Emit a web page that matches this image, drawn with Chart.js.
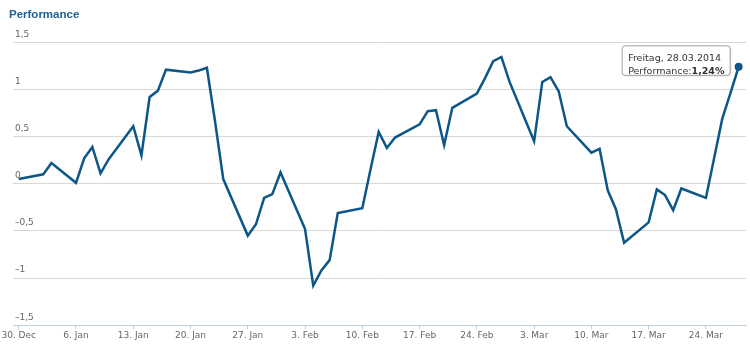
<!DOCTYPE html>
<html>
<head>
<meta charset="utf-8">
<script src="https://cdn.jsdelivr.net/npm/chart.js@4"></script>
<style>
  body { margin: 0; background: #fff; }
  #wrap { width: 750px; height: 350px; }
</style>
</head>
<body>
<div id="wrap"><canvas id="perfChart"></canvas></div>
<script>
// trading days and performance in %
const dates = [
  '2013-12-30', '2014-01-02', '2014-01-03', '2014-01-06', '2014-01-07', '2014-01-08', '2014-01-09', '2014-01-10',
  '2014-01-13', '2014-01-14', '2014-01-15', '2014-01-16', '2014-01-17', '2014-01-20', '2014-01-21', '2014-01-22',
  '2014-01-23', '2014-01-24', '2014-01-27', '2014-01-28', '2014-01-29', '2014-01-30', '2014-01-31', '2014-02-03',
  '2014-02-04', '2014-02-05', '2014-02-06', '2014-02-07', '2014-02-10', '2014-02-11', '2014-02-12', '2014-02-13',
  '2014-02-14', '2014-02-17', '2014-02-18', '2014-02-19', '2014-02-20', '2014-02-21', '2014-02-24', '2014-02-25',
  '2014-02-26', '2014-02-27', '2014-02-28', '2014-03-03', '2014-03-04', '2014-03-05', '2014-03-06', '2014-03-07',
  '2014-03-10', '2014-03-11', '2014-03-12', '2014-03-13', '2014-03-14', '2014-03-17', '2014-03-18', '2014-03-19',
  '2014-03-20', '2014-03-21', '2014-03-24', '2014-03-25', '2014-03-26', '2014-03-27', '2014-03-28'
];
const performance = [
  0.05, 0.10, 0.22, 0.01, 0.27, 0.39, 0.11, 0.26,
  0.61, 0.30, 0.92, 0.985, 1.21, 1.18, 1.20, 1.23,
  0.66, 0.05, -0.55, -0.43, -0.15, -0.11, 0.12, -0.48,
  -1.08, -0.92, -0.81, -0.31, -0.26, 0.15, 0.55, 0.38,
  0.49, 0.63, 0.77, 0.78, 0.41, 0.805, 0.955, 1.12,
  1.30, 1.345, 1.08, 0.45, 1.08, 1.13, 0.98, 0.61,
  0.33, 0.37, -0.07, -0.27, -0.625, -0.41, -0.06, -0.12,
  -0.28, -0.05, -0.15, 0.27, 0.69, 0.96, 1.24
];
const xTickLabels = ['30. Dec', '6. Jan', '13. Jan', '20. Jan', '27. Jan', '3. Feb', '10. Feb',
  '17. Feb', '24. Feb', '3. Mar', '10. Mar', '17. Mar', '24. Mar'];
const weekdays = ['Sonntag', 'Montag', 'Dienstag', 'Mittwoch', 'Donnerstag', 'Freitag', 'Samstag'];

const DAY = 86400000;
const start = Date.parse(dates[0]);
const points = dates.map((d, i) => ({ x: (Date.parse(d) - start) / DAY, y: performance[i] }));
const last = points.length - 1;
const lineColor = '#0d5788';

function fmt(v) {
  return String(v).replace('.', ',').replace('-', '–');
}

// fixed tooltip on the last point
const lastTip = {
  id: 'lastTip',
  afterDatasetsDraw(chart) {
    const pt = chart.getDatasetMeta(0).data[last];
    const d = new Date(dates[last]);
    const title = weekdays[d.getUTCDay()] + ', ' +
      String(d.getUTCDate()).padStart(2, '0') + '.' +
      String(d.getUTCMonth() + 1).padStart(2, '0') + '.' + d.getUTCFullYear();
    const val = performance[last].toFixed(2).replace('.', ',') + '%';
    const c = chart.ctx;
    const x = pt.x - 116.5, y = pt.y - 21, w = 108, h = 29.5;
    c.save();
    c.shadowColor = 'rgba(0,0,0,0.15)';
    c.shadowOffsetX = 1;
    c.shadowOffsetY = 1;
    c.shadowBlur = 2;
    c.fillStyle = '#fff';
    c.beginPath();
    c.roundRect(x, y, w, h, 3);
    c.fill();
    c.shadowColor = 'transparent';
    c.strokeStyle = '#a0a0a0';
    c.lineWidth = 1;
    c.stroke();
    c.fillStyle = '#333';
    c.textBaseline = 'alphabetic';
    c.font = '9.5px "DejaVu Sans"';
    c.fillText(title, x + 6, pt.y - 6);
    const lbl = 'Performance:';
    c.fillText(lbl, x + 6, pt.y + 7.3);
    const lw = c.measureText(lbl).width;
    c.font = 'bold 9.5px "DejaVu Sans"';
    c.fillText(val, x + 6 + lw, pt.y + 7.3);
    c.restore();
  }
};

new Chart(document.getElementById('perfChart'), {
  type: 'line',
  data: {
    datasets: [{
      label: 'Performance',
      data: points,
      borderColor: lineColor,
      backgroundColor: lineColor,
      borderWidth: 2.5,
      tension: 0,
      pointRadius: (ctx) => (ctx.dataIndex === last ? 4 : 0),
      pointHoverRadius: 0,
      pointBorderWidth: 0,
    }],
  },
  options: {
    responsive: true,
    maintainAspectRatio: false,
    animation: false,
    events: [],
    layout: { padding: { left: 9, right: 4, top: 0, bottom: 8 } },
    plugins: {
      legend: { display: false },
      tooltip: { enabled: false },
      title: {
        display: true,
        text: 'Performance',
        align: 'start',
        color: '#1f5f91',
        font: { family: '"Liberation Sans", Arial, sans-serif', size: 11.5, weight: 'bold' },
        padding: { top: 7.5, bottom: 21 },
      },
    },
    scales: {
      x: {
        type: 'linear',
        min: -0.7,
        max: 88.9,
        afterBuildTicks: (s) => { s.ticks = xTickLabels.map((_, i) => ({ value: i * 7 })); },
        border: { display: true, color: '#c0d0e0', width: 1 },
        grid: { drawOnChartArea: false, drawTicks: true, tickLength: 4, tickColor: '#c0d0e0' },
        ticks: {
          autoSkip: false,
          maxRotation: 0,
          padding: 1,
          color: '#666',
          font: { family: '"DejaVu Sans"', size: 9 },
          callback: (v, i) => xTickLabels[i],
        },
      },
      y: {
        min: -1.5,
        max: 1.5,
        border: { display: false },
        grid: {
          drawTicks: false,
          color: (ctx) => (ctx.tick && ctx.tick.value === -1.5 ? 'rgba(0,0,0,0)' : '#d8d8d8'),
        },
        ticks: {
          stepSize: 0.5,
          mirror: true,
          padding: 2,
          labelOffset: -8,
          color: '#666',
          font: { family: '"DejaVu Sans"', size: 9 },
          callback: (v) => fmt(v),
        },
      },
    },
  },
  plugins: [lastTip],
});
</script>
</body>
</html>
